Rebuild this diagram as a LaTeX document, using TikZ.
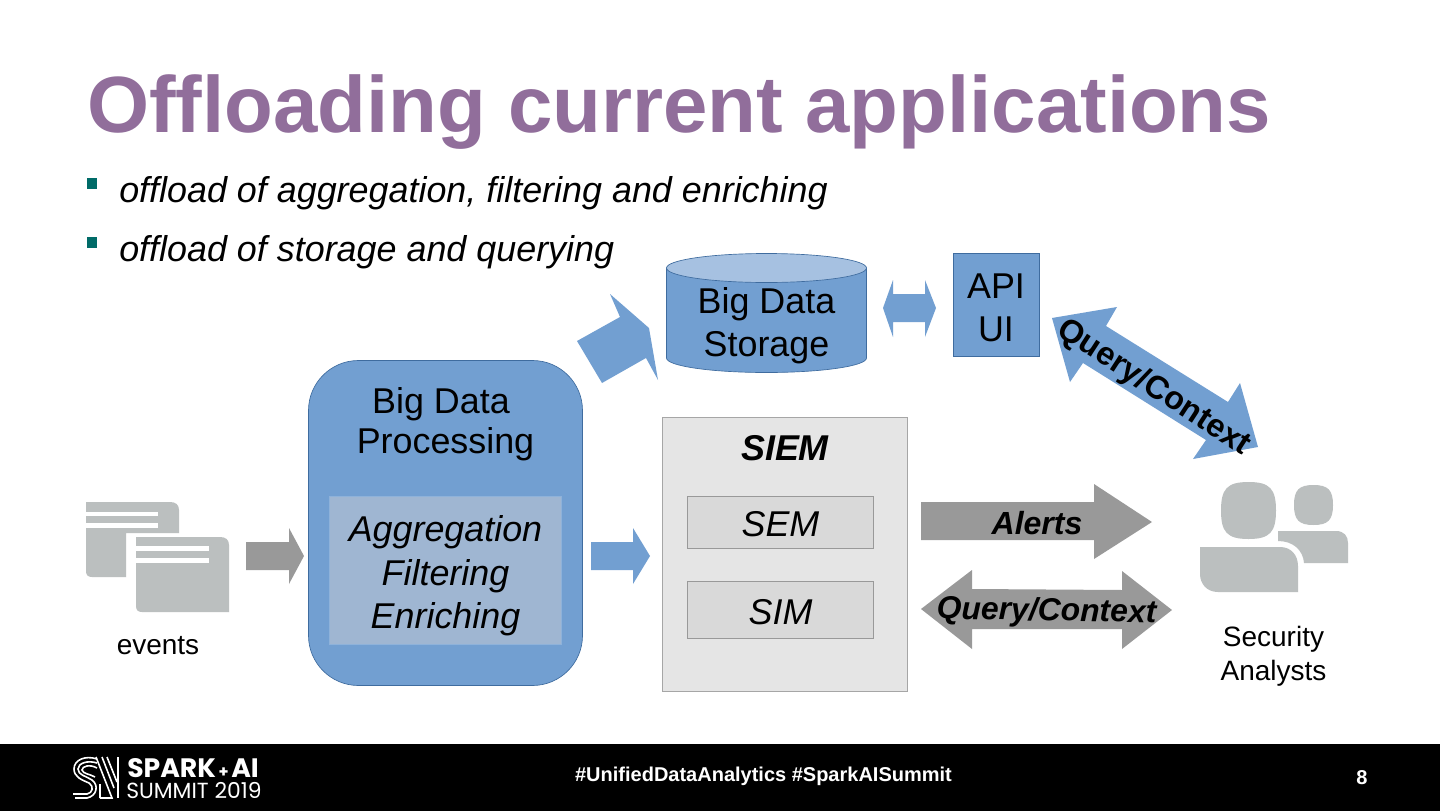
\documentclass[tikz,border=0pt]{standalone}
\usepackage{fontspec}
\setmainfont{Liberation Sans}
\newfontfamily\logofont{Poppins}
\definecolor{titlepurple}{HTML}{916E9B}
\definecolor{bulletteal}{HTML}{006B68}
\definecolor{blueA}{HTML}{729FD1}
\definecolor{blueTop}{HTML}{A6C1E1}
\definecolor{blueEdge}{HTML}{3F6C9F}
\definecolor{innerBlue}{HTML}{9FB6D2}
\definecolor{arrowGray}{HTML}{999999}
\definecolor{iconGray}{HTML}{BBBFBF}
\newcommand{\fsz}[1]{\fontsize{#1}{#1}\selectfont}
\tikzset{
  txt/.style={anchor=base,inner sep=0pt,text=black},
  bluearrow/.style={fill=blueA,draw=none},
  grayarrow/.style={fill=arrowGray,draw=none},
  iconfill/.style={fill=iconGray,draw=none},
}
\begin{document}
\begin{tikzpicture}[x=0.75pt,y=-0.75pt]
\useasboundingbox (0,0) rectangle (1440,811);
\fill[white] (0,0) rectangle (1440,811);
% title and bullets
\node[txt,anchor=base west,text=titlepurple,font=\fsz{59.85}\bfseries] (title) at (87,132) {Offloading current applications};
\fill[bulletteal] (87,178) rectangle (97,189);
\fill[bulletteal] (87,237) rectangle (97,248);
\node[txt,anchor=base west,font=\fsz{26.92}\itshape] (b1) at (119,202) {offload of aggregation, filtering and enriching};
\node[txt,anchor=base west,font=\fsz{26.92}\itshape] (b2) at (119,261) {offload of storage and querying};
% events icon
\path[iconfill] (86,502) -- (170,502) .. controls (176,502) and (179,505) .. (179,510) -- (179,533) -- (126,533) -- (126,577) -- (92,577) .. controls (88,577) and (86,575) .. (86,571) -- cycle;
\fill[white] (86,512) rectangle (158,516);
\fill[white] (86,523) rectangle (158,528);
\path[iconfill] (136,537) -- (220,537) .. controls (226,537) and (229,540) .. (229,545) -- (229,612) -- (142,612) .. controls (138,612) and (136,610) .. (136,606) -- cycle;
\fill[white] (136,546) rectangle (209,551);
\fill[white] (136,558) rectangle (209,563);
\node[txt,font=\fsz{21}] (events) at (158,654) {events};
% small arrows
\path[grayarrow] (246,542) -- (289,542) -- (289,528) -- (304,556) -- (289,584) -- (289,570) -- (246,570) -- cycle;
\path[bluearrow] (591,542) -- (633,542) -- (633,528) -- (650,556) -- (633,584) -- (633,570) -- (591,570) -- cycle;
% processing
\draw[fill=blueA,draw=blueEdge,line width=0.5pt,rounded corners=37.5pt] (308.5,360.5) rectangle (582.5,685.5);
\node[txt,font=\fsz{26.9}] (bd) at (441,413) {Big Data};
\node[txt,font=\fsz{26.9}] (pr) at (445.5,453) {Processing};
\draw[fill=innerBlue,draw=blueA!80!white,line width=0.5pt] (329.5,496.5) rectangle (561.5,644.5);
\node[txt,font=\fsz{26.9}\itshape] (ag) at (445.5,541) {Aggregation};
\node[txt,font=\fsz{26.9}\itshape] (fi) at (445.5,585) {Filtering};
\node[txt,font=\fsz{26.9}\itshape] (en) at (445.5,628) {Enriching};
% up arrow
\path[bluearrow] (577,341) -- (620,317) -- (610,294) -- (649,328) -- (658,380) -- (646,358) -- (602,383) -- cycle;
% cylinder
\draw[fill=blueA,draw=blueEdge,line width=0.5pt] (666.5,268) -- (666.5,358) .. controls (666.5,366) and (711,372.5) .. (766.5,372.5) .. controls (822,372.5) and (866.5,366) .. (866.5,358) -- (866.5,268) -- cycle;
\draw[fill=blueTop,draw=blueEdge,line width=0.5pt] (766.5,268) ellipse [x radius=100,y radius=14.5];
\node[txt,font=\fsz{26.9}] (st1) at (766.5,313) {Big Data};
\node[txt,font=\fsz{26.9}] (st2) at (766.5,356) {Storage};
% double arrow
\path[bluearrow] (883,308) -- (893,280) -- (893,294) -- (925,294) -- (925,280) -- (936,308) -- (925,337) -- (925,322) -- (893,322) -- (893,337) -- cycle;
% API
\draw[fill=blueA,draw=blueEdge,line width=0.5pt] (953.5,253.5) rectangle (1039.5,356.5);
\node[txt,font=\fsz{26.9}] (api) at (996,298) {API};
\node[txt,font=\fsz{26.9}] (ui) at (996,341) {UI};
% blue query arrow
\path[bluearrow] (1052,318) -- (1117,307) -- (1106,326) -- (1228,402) -- (1240,383) -- (1258,447) -- (1193,459) -- (1206,440) -- (1083,363) -- (1070,382) -- cycle;
\node[inner sep=0pt,rotate=-33,font=\fsz{24.3}\bfseries] (qc1) at (1153.5,388) {Query/Context};
% SIEM
\draw[fill=black!10,draw=black!35,line width=0.5pt] (662.5,417.5) rectangle (907.5,691.5);
\node[txt,font=\fsz{26.9}\bfseries\itshape] (siem) at (785,460) {SIEM};
\draw[fill=black!15,draw=black!40,line width=0.5pt] (687.5,496.5) rectangle (873.5,548.5);
\node[txt,font=\fsz{26.9}\itshape] (sem) at (780.5,536) {SEM};
\draw[fill=black!15,draw=black!40,line width=0.5pt] (687.5,581.5) rectangle (873.5,638.5);
\node[txt,font=\fsz{26.9}\itshape] (sim) at (780.5,624) {SIM};
% alerts
\path[grayarrow] (921,502) -- (1094,502) -- (1094,484) -- (1152,522) -- (1094,559) -- (1094,540) -- (921,540) -- cycle;
\node[txt,font=\fsz{24}\bfseries\itshape] (alerts) at (1037,534) {Alerts};
% gray query arrow
\path[grayarrow] (921,609) -- (972,570) -- (972,589) -- (1122,590) -- (1122,571) -- (1172,610) -- (1122,649) -- (1122,629) -- (972,629) -- (972,649) -- cycle;
\node[inner sep=0pt,rotate=-1,font=\fsz{23.9}\bfseries\itshape] (qc2) at (1046.5,612.5) {Query/Context};
% analysts icon
\path[iconfill] (1248.5,482) .. controls (1270,482) and (1276,489) .. (1276,510.5) .. controls (1276,532) and (1270,539) .. (1248.5,539) .. controls (1227,539) and (1221,532) .. (1221,510.5) .. controls (1221,489) and (1227,482) .. (1248.5,482) -- cycle;
\path[iconfill] (1313.5,485) .. controls (1328,485) and (1333,490) .. (1333,505) .. controls (1333,520) and (1328,525) .. (1313.5,525) .. controls (1299,525) and (1294,520) .. (1294,505) .. controls (1294,490) and (1299,485) .. (1313.5,485) -- cycle;
\path[iconfill] (1200,547) -- (1280,547) .. controls (1291,547) and (1298,555) .. (1298,566) -- (1298,592) -- (1218,592) .. controls (1207,592) and (1200,584) .. (1200,574) -- cycle;
\path[iconfill] (1278,531) -- (1336,531) .. controls (1344,531) and (1348,536) .. (1348,543) -- (1348,563) -- (1304,563) .. controls (1303,550) and (1293,541) .. (1278,541) -- cycle;
\node[txt,font=\fsz{21}] (sec) at (1273.5,646) {Security};
\node[txt,font=\fsz{21}] (ana) at (1273.5,680) {Analysts};
% footer
\fill[black] (0,744) rectangle (1440,811);
\node[txt,text=white,font=\fsz{15}\bfseries] (tag) at (763.5,781) {\#UnifiedDataAnalytics \#SparkAISummit};
\node[txt,text=white,font=\fsz{15}\bfseries] (page) at (1362,784) {8};
% logo
\begin{scope}[draw=white,line width=1.2pt]
\draw (97,759) .. controls (85,755) and (74,760) .. (74,769) .. controls (74,777) and (82,780) .. (89,783) .. controls (94,786) and (93,793) .. (87,794) -- (73,794);
\draw (97,763) .. controls (88,760) and (78,763) .. (78,769) .. controls (78,775) and (86,776) .. (92,780) .. controls (99,785) and (97,796) .. (87,798) -- (75,798);
\draw (97,768) .. controls (90,764) and (82,766) .. (82,770) .. controls (83,774) and (90,774) .. (95,777);
\draw (100,798) -- (100,784) (96,757) -- (112,798) -- (100,798);
\draw (102,757) -- (114,788);
\draw (107,757) -- (117,782);
\draw (118,757) -- (118,798);
\end{scope}
\node[inner sep=0pt,anchor=base west,text=white,font=\logofont\fsz{20}\bfseries] (spark) at (127,777) {SPARK{\fsz{12}\,+\,}AI};
\node[inner sep=0pt,anchor=base west,text=white,font=\logofont\fsz{16.4}] (summit) at (126,798) {SUMMIT 2019};
\end{tikzpicture}
\end{document}
